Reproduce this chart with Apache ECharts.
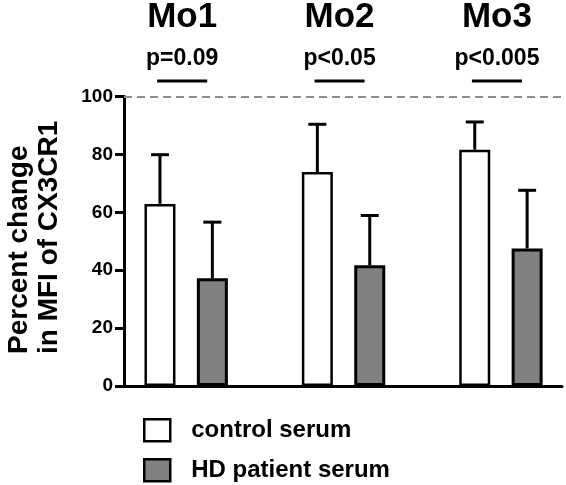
<!DOCTYPE html>
<html>
<head>
<meta charset="utf-8">
<script src="https://cdn.jsdelivr.net/npm/echarts@6/dist/echarts.min.js"></script>
<style>
html,body{margin:0;padding:0;background:#fff;}
#main{width:566px;height:485px;}
</style>
</head>
<body>
<div id="main"></div>
<script>
const CATEGORIES = ['Mo1', 'Mo2', 'Mo3'];
const P_LABELS = ['p=0.09', 'p<0.05', 'p<0.005'];
const SERIES_NAMES = ['control serum', 'HD patient serum'];
const CONTROL_MEAN = [62.9, 73.9, 81.6];
const CONTROL_SD = [17.0, 16.5, 9.6];
const HD_MEAN = [37.2, 41.7, 47.5];
const HD_SD = [19.4, 17.2, 20.1];
const Y_MIN = 0, Y_MAX = 100, Y_STEP = 20;
const REF_LINE = 100;

const FONT = '"Liberation Sans", Arial, sans-serif';
const BAR_W = 31;
const BAR_GAP = 0.69;
const HALF_SEP = BAR_W * (1 + BAR_GAP) / 2;
const CAP_W = 18;
const X_MIN = 0.605, X_MAX = 3.388;

const pos = CATEGORIES.map((c, i) => i + 1);
const controlData = pos.map((x, i) => [x, CONTROL_MEAN[i]]);
const hdData = pos.map((x, i) => [x, HD_MEAN[i]]);
const errData = [];
pos.forEach((x, i) => {
  errData.push([x, CONTROL_MEAN[i], CONTROL_SD[i], -1]);
  errData.push([x, HD_MEAN[i], HD_SD[i], 1]);
});

const legendText = {fontSize: 24, fontWeight: 'bold', fontFamily: FONT, color: '#000', padding: [0, 0, 0, 16]};
const legendStyles = [
  {color: '#fff', borderColor: '#000', borderWidth: 2.5},
  {color: '#808080', borderColor: '#000', borderWidth: 2.5}
];
const legendTops = [413, 453];

const chart = echarts.init(document.getElementById('main'), null, {renderer: 'canvas'});
chart.setOption({
  animation: false,
  backgroundColor: '#fff',
  grid: {left: 124, right: 4, top: 95, bottom: 99, containLabel: false},
  xAxis: [{
    type: 'value', min: X_MIN, max: X_MAX,
    axisLine: {show: true, onZero: false, lineStyle: {color: '#000', width: 3}},
    axisTick: {show: false}, axisLabel: {show: false}, splitLine: {show: false}
  }, {
    type: 'value', min: X_MIN, max: X_MAX, position: 'top',
    axisLine: {show: false}, axisTick: {show: false}, splitLine: {show: false},
    axisLabel: {
      show: true, customValues: pos, margin: 14, padding: [0, 8, 0, 0],
      formatter: v => '{t|' + CATEGORIES[Math.round(v) - 1] + '}\n{p|' + P_LABELS[Math.round(v) - 1] + '}\n{u|}',
      rich: {
        t: {fontSize: 35, fontWeight: 'bold', fontFamily: FONT, color: '#000', lineHeight: 40},
        p: {fontSize: 23, fontWeight: 'bold', fontFamily: FONT, color: '#000', lineHeight: 42},
        u: {width: 50, height: 3, backgroundColor: '#000', lineHeight: 3}
      }
    }
  }],
  yAxis: {
    type: 'value', min: Y_MIN, max: Y_MAX, interval: Y_STEP,
    axisLine: {show: true, lineStyle: {color: '#000', width: 3}},
    axisTick: {show: true, length: 9, lineStyle: {color: '#000', width: 3}},
    axisLabel: {margin: 11, fontSize: 19, fontWeight: 'bold', fontFamily: FONT, color: '#000'},
    splitLine: {show: false}
  },
  legend: SERIES_NAMES.map((n, i) => ({
    orient: 'vertical', left: 138, top: legendTops[i],
    itemWidth: 26, itemHeight: 22, icon: 'rect',
    textStyle: legendText,
    data: [{name: n, itemStyle: legendStyles[i]}]
  })),
  graphic: [{
    type: 'text', x: 4, y: 354, rotation: Math.PI / 2,
    style: {
      text: 'Percent change\nin MFI of CX3CR1',
      font: 'bold 28px ' + FONT, fill: '#000',
      textAlign: 'left', textVerticalAlign: 'top', lineHeight: 30
    }
  }],
  series: [{
    name: SERIES_NAMES[0], type: 'bar', barWidth: BAR_W, barGap: (BAR_GAP * 100) + '%',
    data: controlData,
    itemStyle: {color: '#fff', borderColor: '#000', borderWidth: 2.5},
    markLine: {
      silent: true, symbol: ['none', 'none'], label: {show: false},
      lineStyle: {type: [8, 5], color: '#8c8c8c', width: 2},
      data: [{yAxis: REF_LINE}]
    }
  }, {
    name: SERIES_NAMES[1], type: 'bar', barWidth: BAR_W, barGap: (BAR_GAP * 100) + '%',
    data: hdData,
    itemStyle: {color: '#808080', borderColor: '#000', borderWidth: 3}
  }, {
    type: 'custom', data: errData, z: 5, silent: true,
    encode: {x: 0, y: 1},
    renderItem: function (params, api) {
      const x = api.value(0), m = api.value(1), sd = api.value(2), side = api.value(3);
      const b = api.coord([x, m]);
      const t = api.coord([x, m + sd]);
      const cx = b[0] + side * HALF_SEP;
      const style = {stroke: '#000', lineWidth: 3};
      return {
        type: 'group',
        children: [
          {type: 'line', shape: {x1: cx, y1: b[1], x2: cx, y2: t[1]}, style: style},
          {type: 'line', shape: {x1: cx - CAP_W / 2, y1: t[1], x2: cx + CAP_W / 2, y2: t[1]}, style: style}
        ]
      };
    }
  }]
});
</script>
</body>
</html>
